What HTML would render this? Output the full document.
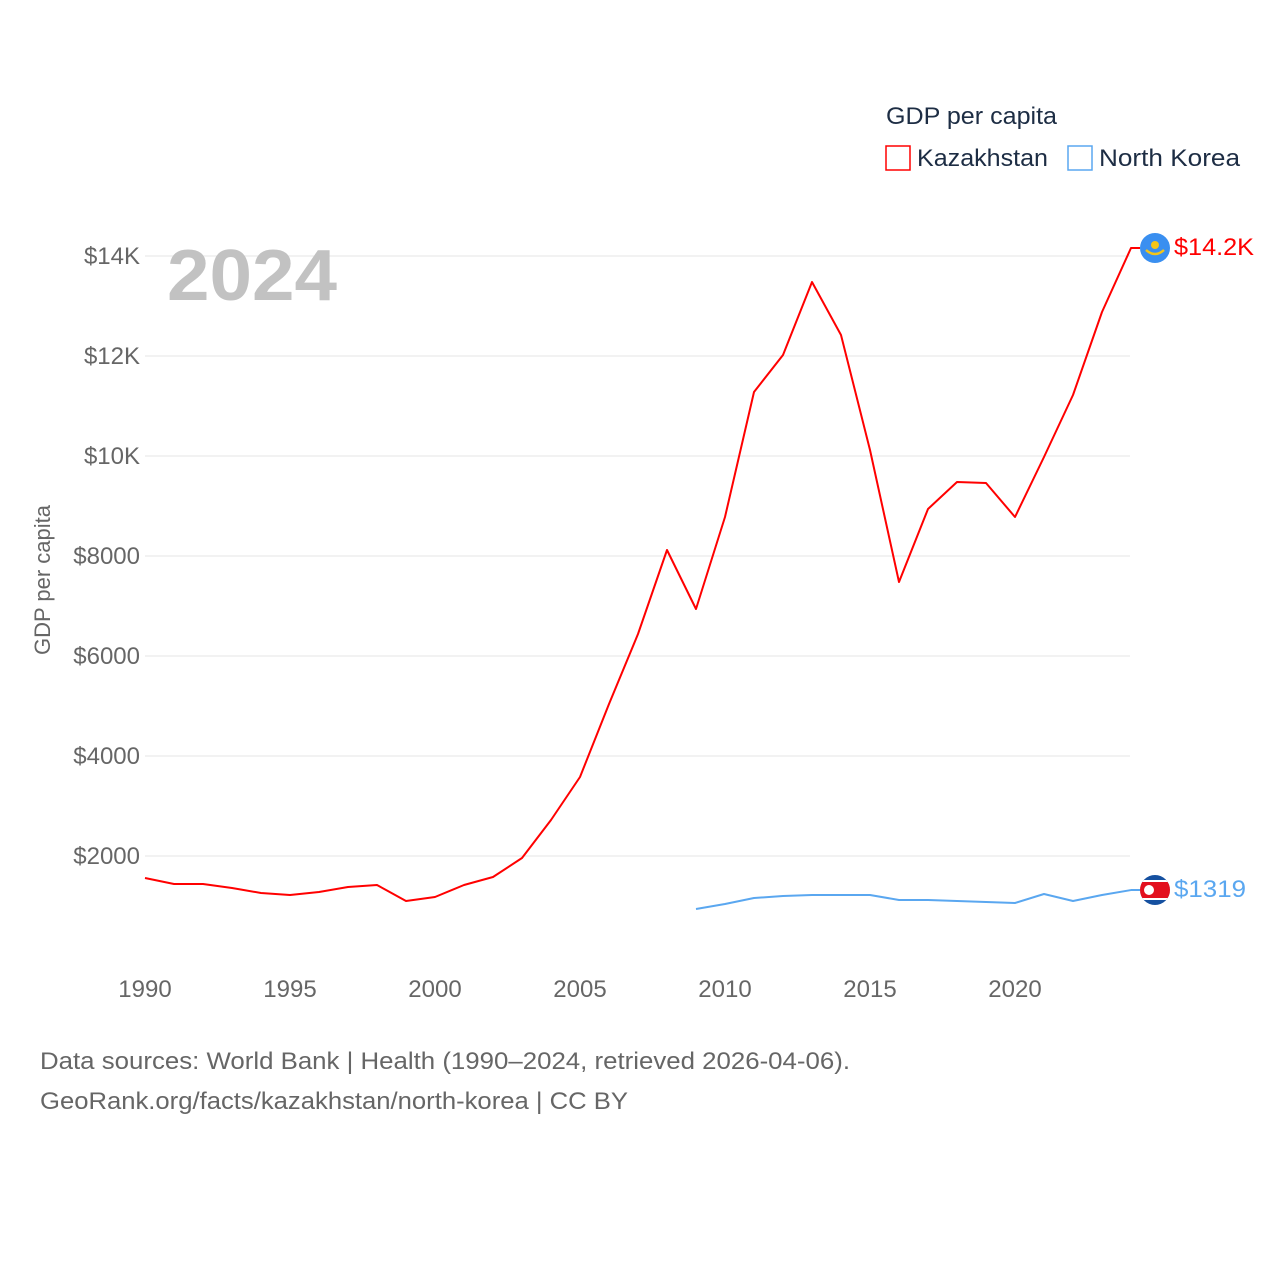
<!DOCTYPE html>
<html><head><meta charset="utf-8"><style>
body{margin:0;background:#fff;font-family:"Liberation Sans",sans-serif;}
svg text{font-family:"Liberation Sans",sans-serif;}
</style></head><body>
<svg id="chart" width="1280" height="1280" viewBox="0 0 1280 1280">
<rect width="1280" height="1280" fill="#fff"/>
<g id="grid"></g><g id="yticks"></g><g id="xticks"></g>
<text x="167" y="300" font-size="72" font-weight="bold" fill="#c2c2c2" textLength="170" lengthAdjust="spacingAndGlyphs">2024</text>
<text transform="translate(50,580) rotate(-90)" font-size="22" fill="#666" text-anchor="middle">GDP per capita</text>
<text x="886" y="124" font-size="24" fill="#1d2d44" textLength="171" lengthAdjust="spacingAndGlyphs">GDP per capita</text>
<g><rect x="886" y="146" width="24" height="24" fill="none" stroke="#f00" stroke-width="1.5"/><text x="917" y="166" font-size="24" fill="#1d2d44" textLength="131" lengthAdjust="spacingAndGlyphs">Kazakhstan</text></g>
<g><rect x="1068" y="146" width="24" height="24" fill="none" stroke="#5aa7f0" stroke-width="1.5"/><text x="1099" y="166" font-size="24" fill="#1d2d44" textLength="141" lengthAdjust="spacingAndGlyphs">North Korea</text></g>
<g id="lines"></g>
<g><circle cx="1155" cy="248" r="15" fill="#3a8ff0"/><circle cx="1155" cy="245" r="4" fill="#f5c518"/><path d="M1146 250 Q1155 258 1164 250" stroke="#f5c518" stroke-width="2.5" fill="none"/></g>
<g><clipPath id="c"><circle cx="1155" cy="890" r="15"/></clipPath><g clip-path="url(#c)"><rect x="1140" y="875" width="30" height="30" fill="#1550a0"/><rect x="1140" y="880" width="30" height="20" fill="#fff"/><rect x="1140" y="882" width="30" height="16" fill="#e3101e"/><circle cx="1149" cy="890" r="5" fill="#fff"/></g></g>
<text x="1174" y="255" font-size="24" fill="#f00" textLength="80" lengthAdjust="spacingAndGlyphs">$14.2K</text>
<text x="1174" y="897" font-size="24" fill="#5aa7f0" textLength="72" lengthAdjust="spacingAndGlyphs">$1319</text>
<text x="40" y="1069" font-size="24" fill="#666" textLength="810" lengthAdjust="spacingAndGlyphs">Data sources: World Bank | Health (1990–2024, retrieved 2026-04-06).</text>
<text x="40" y="1109" font-size="24" fill="#666" textLength="588" lengthAdjust="spacingAndGlyphs">GeoRank.org/facts/kazakhstan/north-korea | CC BY</text>
</svg>
<script>
const years=[1990,1991,1992,1993,1994,1995,1996,1997,1998,1999,2000,2001,2002,2003,2004,2005,2006,2007,2008,2009,2010,2011,2012,2013,2014,2015,2016,2017,2018,2019,2020,2021,2022,2023,2024];
const kazakhstan=[1560,1440,1440,1360,1260,1220,1280,1380,1420,1100,1180,1420,1580,1960,2720,3580,5040,6440,8120,6940,8780,11280,12020,13480,12420,10120,7480,8940,9480,9460,8780,9980,11220,12880,14160];
const nkYears=[2009,2010,2011,2012,2013,2014,2015,2016,2017,2018,2019,2020,2021,2022,2023,2024];
const northKorea=[940,1040,1160,1200,1220,1220,1220,1120,1120,1100,1080,1060,1240,1100,1220,1319];
const yTicks=[2000,4000,6000,8000,10000,12000,14000];
const yTickLabels=["$2000","$4000","$6000","$8000","$10K","$12K","$14K"];
const xTicks=[1990,1995,2000,2005,2010,2015,2020];
const NS="http://www.w3.org/2000/svg";
const xs=y=>145+(y-1990)*29;
const ys=v=>956-v*0.05;
function mk(t,a,p){const e=document.createElementNS(NS,t);for(const k in a)e.setAttribute(k,a[k]);p.appendChild(e);return e;}
const grid=document.getElementById('grid'),yt=document.getElementById('yticks'),xt=document.getElementById('xticks'),lines=document.getElementById('lines');
yTicks.forEach((v,i)=>{
 const l=mk('line',{x1:145,x2:1130,y1:ys(v),y2:ys(v),stroke:'#e6e6e6','stroke-width':1},grid);
 
 
 const t=mk('text',{x:140,y:ys(v)+8,'font-size':24,fill:'#666','text-anchor':'end'},yt);
 t.textContent=yTickLabels[i];
 
 
});
xTicks.forEach(v=>{
 const t=mk('text',{x:xs(v),y:997,'font-size':24,fill:'#666','text-anchor':'middle'},xt);
 t.textContent=v;
 
 
});
function line(xv,vals,color,name){
 let d=xv.map((y,i)=>(i?'L':'M')+xs(y)+' '+ys(vals[i])).join(' ');
 const last=vals[vals.length-1];
 d+=' L'+(xs(xv[xv.length-1])+9)+' '+ys(last);
 const p=mk('path',{d:d,fill:'none',stroke:color,'stroke-width':2,'stroke-linejoin':'round'},lines);
 
 
}
line(years,kazakhstan,'#f00','line-kazakhstan');
line(nkYears,northKorea,'#5aa7f0','line-north-korea');
</script>
</body></html>
